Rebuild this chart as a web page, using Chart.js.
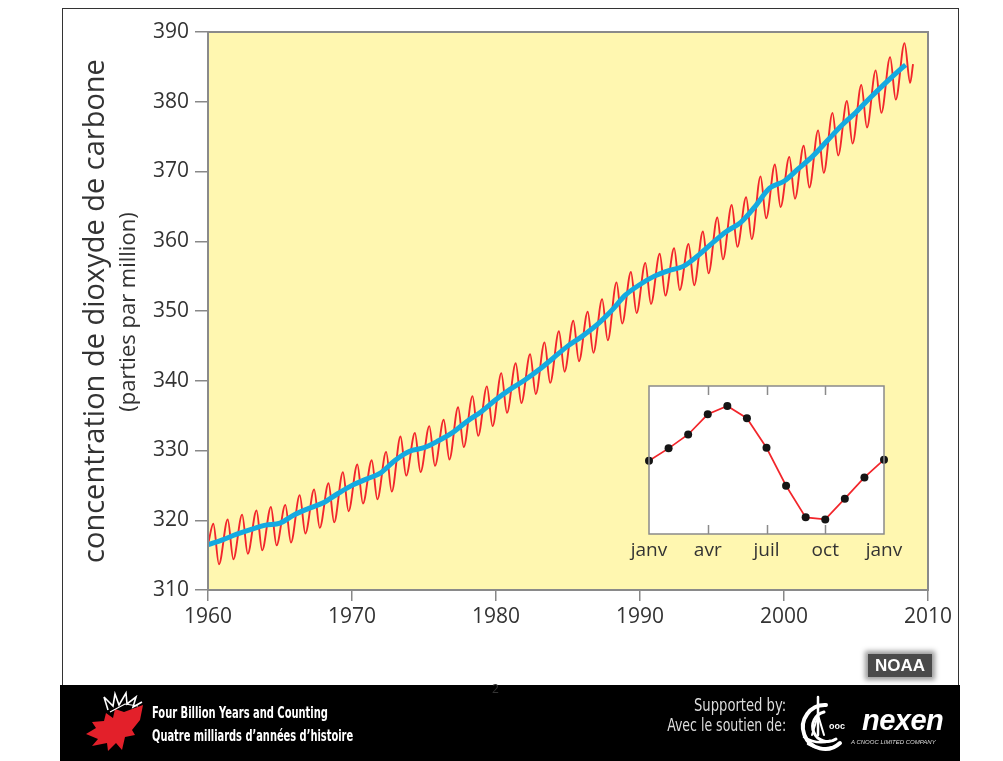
<!DOCTYPE html>
<html>
<head>
<meta charset="utf-8">
<script src="https://cdn.jsdelivr.net/npm/chart.js@4.4.0/dist/chart.umd.min.js"></script>
<style>
  html,body{margin:0;padding:0;}
  body{width:1003px;height:761px;background:#fff;position:relative;overflow:hidden;font-family:"Open Sans","Noto Sans",sans-serif;}
  .abs{position:absolute;}
  #frame{left:62px;top:8px;width:897px;height:677px;border-top:1px solid #333;border-left:1px solid #333;border-right:1px solid #333;box-sizing:border-box;}
  #footer{left:60px;top:685px;width:900px;height:76px;background:#000;}
  .rot{transform:translate(-50%,-50%) rotate(-90deg);white-space:nowrap;color:#333;}
  .foot{color:#fff;font-family:"Liberation Sans Narrow","DejaVu Sans Condensed",sans-serif;font-size:16px;font-weight:bold;white-space:nowrap;transform-origin:left top;}
  .footr{color:#ddd;font-family:"Liberation Sans Narrow","DejaVu Sans Condensed",sans-serif;font-size:17px;white-space:nowrap;transform-origin:right top;text-align:right;}
</style>
</head>
<body>
<div id="frame" class="abs"></div>
<div id="footer" class="abs"></div>
<canvas id="main" class="abs" width="1003" height="761" style="left:0;top:0;width:1003px;height:761px;"></canvas>
<canvas id="inset" class="abs" width="290" height="200" style="left:620px;top:370px;width:290px;height:200px;"></canvas>

<div class="abs rot" style="left:92px;top:311px;font-size:29px;">concentration de dioxyde de carbone</div>
<div class="abs rot" style="left:126px;top:312px;font-size:22px;">(parties par million)</div>

<div class="abs" style="left:868px;top:654px;width:64px;height:23px;background:#4a4a4a;box-shadow:0 0 5px 3px #999;color:#fff;font:bold 17px 'Liberation Sans',Arial,sans-serif;line-height:23px;text-align:center;">NOAA</div>

<div class="abs" style="left:492px;top:680px;color:#333;font-size:12px;">2</div>

<svg class="abs" style="left:80px;top:690px;" width="80" height="65" viewBox="0 0 80 65">
  <polygon fill="#e3202a" points="44,22 63,15 60,30 52,40 55,45 45,47 42,60 36,53 28,61 27,53 12,56 18,49 6,44 16,38 12,32 24,31 26,23 33,28 35,19"/>
  <polyline fill="none" stroke="#fff" stroke-width="1.6" points="28,20 24,7 33,16 35,4 39,15 46,3 47,14 56,7 53,17 62,12"/>
  <polyline fill="none" stroke="#fff" stroke-width="1.2" points="30,22 45,14 58,16"/>
</svg>
<div class="abs foot" style="left:152px;top:703px;transform:scaleX(0.69);">Four Billion Years and Counting</div>
<div class="abs foot" style="left:152px;top:726px;transform:scaleX(0.685);">Quatre milliards d’années d’histoire</div>

<div class="abs footr" style="right:217px;top:695px;transform:scaleX(0.86);">Supported by:</div>
<div class="abs footr" style="right:217px;top:715px;transform:scaleX(0.82);">Avec le soutien de:</div>

<svg class="abs" style="left:796px;top:695px;" width="64" height="60" viewBox="0 0 64 60">
  <g fill="none" stroke="#fff" stroke-linecap="round">
    <path d="M30 10 A22 22 0 1 0 44 48" stroke-width="4"/>
    <path d="M28 17 A15 15 0 1 0 40 44" stroke-width="3"/>
    <path d="M8 42 Q20 50 34 46" stroke-width="2.5"/>
    <path d="M12 49 Q24 56 38 52" stroke-width="2.5"/>
    <line x1="22" y1="2" x2="22" y2="40" stroke-width="2.5"/>
    <line x1="16" y1="40" x2="22" y2="20" stroke-width="2"/>
    <line x1="28" y1="40" x2="22" y2="20" stroke-width="2"/>
  </g>
  <text x="33" y="34" fill="#fff" font-family="Liberation Sans, Arial" font-weight="bold" font-size="9">ooc</text>
</svg>
<div class="abs" style="left:862px;top:704px;color:#fff;font:italic bold 29px 'Liberation Sans',Arial,sans-serif;letter-spacing:-0.5px;">nexen</div>
<div class="abs" style="left:851px;top:739px;color:#ddd;font:italic 6px 'Liberation Sans',Arial,sans-serif;white-space:nowrap;">A CNOOC LIMITED COMPANY</div>

<script>
// ---------- DATA ----------
const yTicks = [310, 320, 330, 340, 350, 360, 370, 380, 390];
const xTicks = [1960, 1970, 1980, 1990, 2000, 2010];

// trend line (blue), value at start of each year
const trendYears = [1960,1961,1962,1963,1964,1965,1966,1967,1968,1969,
  1970,1971,1972,1973,1974,1975,1976,1977,1978,1979,
  1980,1981,1982,1983,1984,1985,1986,1987,1988,1989,
  1990,1991,1992,1993,1994,1995,1996,1997,1998,1999,
  2000,2001,2002,2003,2004,2005,2006,2007,2008,2008.45];
const trendValues = [316.5,317.2,318.0,318.7,319.3,319.6,320.8,321.7,322.5,323.8,
  325.0,325.9,326.8,328.6,329.9,330.4,331.4,332.6,334.2,335.6,
  337.3,338.8,340.1,341.6,343.3,345.0,346.4,348.0,350.0,352.3,
  353.8,355.0,355.8,356.4,357.9,359.7,361.4,362.7,365.0,367.6,
  368.6,370.4,372.2,374.4,376.6,378.5,380.6,382.6,384.5,385.3];

// monthly record (red): yearly maximum (May) and minimum (Oct)
const cycleYears = [1960,1961,1962,1963,1964,1965,1966,1967,1968,1969,
  1970,1971,1972,1973,1974,1975,1976,1977,1978,1979,
  1980,1981,1982,1983,1984,1985,1986,1987,1988,1989,
  1990,1991,1992,1993,1994,1995,1996,1997,1998,1999,
  2000,2001,2002,2003,2004,2005,2006,2007,2008];
const maxValues = [319.5,320.1,320.8,321.4,321.9,322.2,323.6,324.4,325.3,326.9,
  328.0,328.6,329.8,332.0,332.5,333.5,334.4,336.2,337.8,339.2,
  341.1,342.5,343.8,345.5,347.1,348.6,349.9,351.7,354.1,355.6,
  356.9,358.2,359.0,359.6,361.4,363.4,365.2,366.3,369.3,371.0,
  372.1,373.7,375.9,378.4,380.1,382.4,384.5,386.4,388.4];
const minValues = [313.7,314.4,315.2,315.7,316.4,316.8,318.1,318.9,319.7,321.3,
  322.4,323.0,324.1,326.4,326.9,327.8,328.7,330.5,332.1,333.5,
  335.4,336.8,338.1,339.7,341.3,342.8,344.0,345.8,348.2,349.7,
  351.0,352.2,353.0,353.7,355.4,357.4,359.2,360.3,363.3,364.9,
  366.1,367.7,369.8,372.3,374.0,376.3,378.4,380.3,382.7];
const maxMonthFraction = 0.37;   // time of year of the maximum (May)
const minMonthFraction = 0.76;   // time of year of the minimum (Oct)
const recordStart = {year: 1960.0, value: 316.5};
const recordEnd = {year: 2008.96, value: 385.4};

// inset: average seasonal cycle (ppm anomaly), janv..janv
const insetMonths = [0,1,2,3,4,5,6,7,8,9,10,11,12];
const insetValues = [-0.04,0.63,1.38,2.47,2.92,2.26,0.66,-1.39,-3.10,-3.21,-2.09,-0.94,0.02];
const insetTickLabels = {0:'janv', 3:'avr', 6:'juil', 9:'oct', 12:'janv'};

// ---------- BUILD ----------
const redData = [{x: recordStart.year, y: recordStart.value}];
cycleYears.forEach((yr, i) => {
  redData.push({x: yr + maxMonthFraction, y: maxValues[i]});
  redData.push({x: yr + minMonthFraction, y: minValues[i]});
});
redData.push({x: recordEnd.year, y: recordEnd.value});
const blueData = trendYears.map((yr, i) => ({x: yr, y: trendValues[i]}));

const FONT = '"Open Sans","Noto Sans",sans-serif';

const plotFrame = {
  id: 'plotFrame',
  beforeDatasetsDraw(chart) {
    const a = chart.chartArea, c = chart.ctx;
    c.save(); c.fillStyle = '#fff7b0';
    c.fillRect(a.left, a.top, a.right - a.left, a.bottom - a.top);
    c.restore();
  },
  afterDraw(chart) {
    const a = chart.chartArea, c = chart.ctx;
    c.save(); c.strokeStyle = '#8a8a8a'; c.lineWidth = 2;
    c.strokeRect(a.left, a.top, a.right - a.left, a.bottom - a.top);
    c.restore();
  }
};

new Chart(document.getElementById('main'), {
  type: 'line',
  data: {
    datasets: [
      {data: blueData, borderColor: '#14a9e1', borderWidth: 5, pointRadius: 0,
       cubicInterpolationMode: 'monotone', order: 1},
      {data: redData, borderColor: '#f2262b', borderWidth: 1.9, pointRadius: 0,
       cubicInterpolationMode: 'monotone', order: 2}
    ]
  },
  options: {
    responsive: false, animation: false, devicePixelRatio: 1,
    layout: {padding: {left: 0, top: 32, right: 75, bottom: 0}},
    plugins: {legend: {display: false}, tooltip: {enabled: false}},
    scales: {
      x: {
        type: 'linear', min: xTicks[0], max: xTicks[xTicks.length - 1],
        afterBuildTicks(s) { s.ticks = xTicks.map(v => ({value: v})); },
        ticks: {callback: v => String(v), font: {family: FONT, size: 21}, color: '#333', padding: 3, maxRotation: 0},
        grid: {drawOnChartArea: false, tickLength: 11, color: '#888', lineWidth: 1.5},
        border: {display: false},
        afterFit(s) { s.height = 171; }
      },
      y: {
        type: 'linear', min: yTicks[0], max: yTicks[yTicks.length - 1],
        afterBuildTicks(s) { s.ticks = yTicks.map(v => ({value: v})); },
        ticks: {font: {family: FONT, size: 21}, color: '#333', padding: 6},
        grid: {drawOnChartArea: false, tickLength: 13, color: '#888', lineWidth: 1.5},
        border: {display: false},
        afterFit(s) { s.width = 208; }
      }
    }
  },
  plugins: [plotFrame]
});

const insetFrame = {
  id: 'insetFrame',
  beforeDatasetsDraw(chart) {
    const a = chart.chartArea, c = chart.ctx;
    c.save(); c.fillStyle = '#ffffff';
    c.fillRect(a.left, a.top, a.right - a.left, a.bottom - a.top);
    c.restore();
  },
  afterDatasetsDraw(chart) {
    const a = chart.chartArea, c = chart.ctx, xs = chart.scales.x;
    c.save(); c.strokeStyle = '#8a8a8a'; c.lineWidth = 1.5;
    c.strokeRect(a.left, a.top, a.right - a.left, a.bottom - a.top);
    [3, 6, 9].forEach(v => {
      const px = Math.round(xs.getPixelForValue(v)) + 0.5;
      c.beginPath(); c.moveTo(px, a.top); c.lineTo(px, a.top + 9);
      c.moveTo(px, a.bottom); c.lineTo(px, a.bottom - 9); c.stroke();
    });
    c.restore();
  }
};

new Chart(document.getElementById('inset'), {
  type: 'line',
  data: {
    datasets: [{
      data: insetMonths.map((m, i) => ({x: m, y: insetValues[i]})),
      borderColor: '#f2262b', borderWidth: 1.7, pointRadius: 4,
      pointBackgroundColor: '#151515', pointBorderWidth: 0, clip: false
    }]
  },
  options: {
    responsive: false, animation: false, devicePixelRatio: 1,
    layout: {padding: {left: 29, top: 16, right: 26, bottom: 0}},
    plugins: {legend: {display: false}, tooltip: {enabled: false}},
    scales: {
      x: {
        type: 'linear', min: 0, max: 12,
        afterBuildTicks(s) { s.ticks = Object.keys(insetTickLabels).map(k => ({value: +k})); },
        ticks: {callback: v => insetTickLabels[v], font: {family: FONT, size: 19}, color: '#333', padding: -3, maxRotation: 0},
        grid: {display: false},
        border: {display: false},
        afterFit(s) { s.height = 36; }
      },
      y: {display: false, min: -4, max: 4}
    }
  },
  plugins: [insetFrame]
});
</script>
</body>
</html>
